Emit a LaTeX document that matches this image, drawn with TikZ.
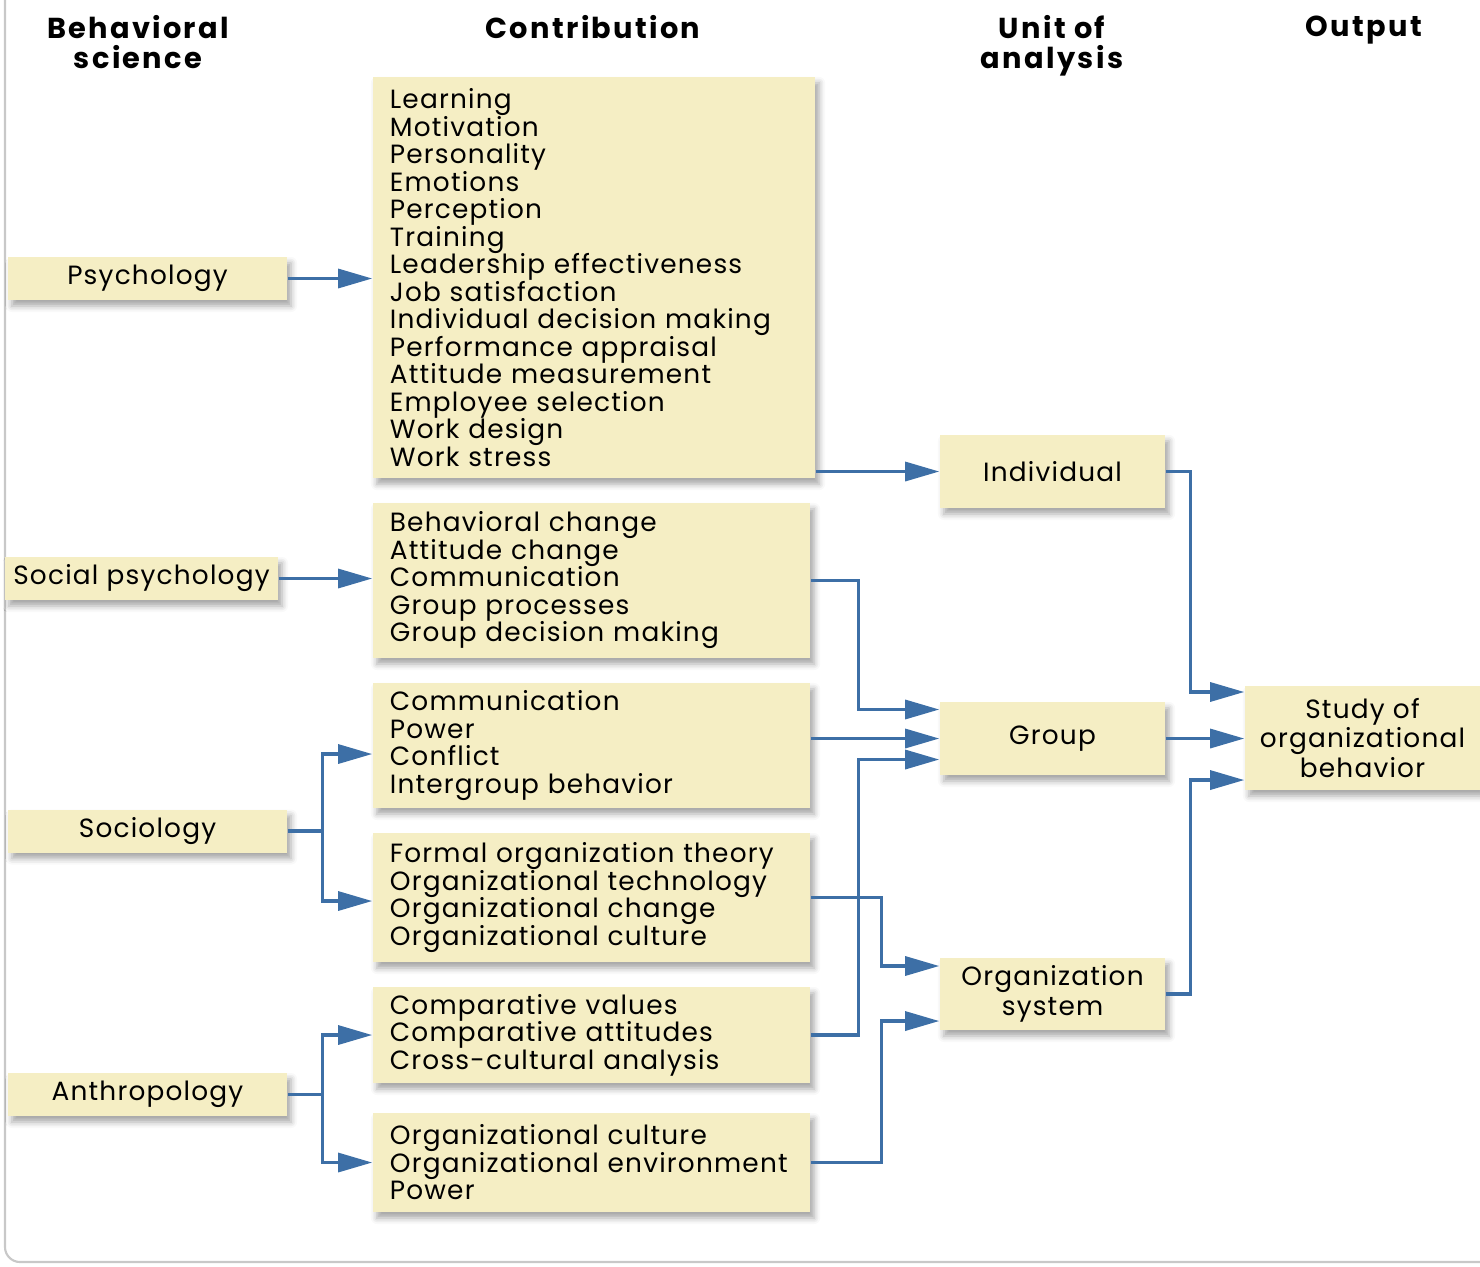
\documentclass[tikz,border=0pt]{standalone}
\usepackage{fontspec}
\setmainfont{Poppins}[LetterSpace=4.5]
\newfontfamily\headfont{Poppins}[LetterSpace=8]
\usetikzlibrary{arrows.meta,shadows.blur,calc}
\definecolor{boxfill}{HTML}{F5EEC4}
\definecolor{linkblue}{HTML}{3D6FA6}
\definecolor{framegray}{HTML}{C8C8C8}
\newcommand{\tightlines}{\lineskiplimit-20pt\relax}
\begin{document}
\begin{tikzpicture}[
				x=0.01cm, y=-0.01cm,
				box/.style={fill=boxfill, inner sep=0pt, blur shadow={shadow xshift=0.04cm, shadow yshift=-0.06cm, shadow blur radius=0.06cm, shadow opacity=35}},
				sci/.style={box, minimum width=2.79cm, minimum height=0.43cm, font={\fontsize{7.5}{8.5}\selectfont}},
				contrib/.style={box, inner xsep=0.17cm, align=left, font={\fontsize{7.5}{7.82}\selectfont\tightlines}},
				unit/.style={box, minimum width=2.25cm, minimum height=0.73cm, align=center, font={\fontsize{7.5}{8.5}\selectfont\tightlines}},
				head/.style={align=center, font={\headfont\bfseries\fontsize{8.2}{8.5}\selectfont\tightlines}},
				link/.style={draw=linkblue, line width=0.9pt, -{Triangle[length=3.4mm,width=1.9mm]}}
			]
			\useasboundingbox (0,0) rectangle (1480,1266);
			\draw[framegray, line width=0.6pt, rounded corners=0.15cm] (5,-20) -- (5,1262) -- (1500,1262);
			% column heads
			\node[head] (h1) at (138,42) {Behavioral\\science};
			\node[head] (h2) at (593,27) {Contribution};
			\node[head] (h3) at (1052,46) {Unit of\\analysis};
			\node[head] (h4) at (1364,30) {Output};
			% behavioral sciences
			\node[sci] (psy) at (147.5,278.5) {Psychology};
			\node[sci, minimum width=2.73cm] (soc) at (141.5,578.5) {Social psychology};
			\node[sci] (sol) at (147.5,831) {Sociology};
			\node[sci] (ant) at (147.5,1094.5) {Anthropology};
			% contributions
			\node[contrib, text width=4.08cm, minimum height=4.01cm] (c1) at (594,277.5) {Learning\\Motivation\\Personality\\Emotions\\Perception\\Training\\Leadership effectiveness\\Job satisfaction\\Individual decision making\\Performance appraisal\\Attitude measurement\\Employee selection\\Work design\\Work stress};
			\node[contrib, text width=4.03cm, minimum height=1.55cm] (c2) at (591.5,580.5) {Behavioral change\\Attitude change\\Communication\\Group processes\\Group decision making};
			\node[contrib, text width=4.03cm, minimum height=1.25cm] (c3) at (591.5,745.5) {Communication\\Power\\Conflict\\Intergroup behavior};
			\node[contrib, text width=4.03cm, minimum height=1.29cm] (c4) at (591.5,897.5) {Formal organization theory\\Organizational technology\\Organizational change\\Organizational culture};
			\node[contrib, text width=4.03cm, minimum height=0.96cm] (c5) at (591.5,1035) {Comparative values\\Comparative attitudes\\Cross-cultural analysis};
			\node[contrib, text width=4.03cm, minimum height=0.99cm] (c6) at (591.5,1162.5) {Organizational culture\\Organizational environment\\Power};
			% units of analysis
			\node[unit] (ind) at (1052.5,471.5) {Individual};
			\node[unit] (grp) at (1052.5,738.5) {Group};
			\node[unit, minimum height=0.72cm] (org) at (1052.5,994) {Organization\\system};
			% output
			\node[unit, minimum width=2.35cm, minimum height=1.04cm] (out) at (1362.5,738) {Study of\\organizational\\behavior};
			% links
			\draw[link] (psy.east) -- (psy.east -| c1.west);
			\draw[link] (soc.east) -- (soc.east -| c2.west);
			\draw[link] (ind.west -| c1.east) -- (ind.west);
			\draw[link] (c2.east) -- ++(48,0) |- ([yshift=0.29cm]grp.west);
			\draw[link] (grp.west -| c3.east) -- (grp.west);
			\draw[link] (c5.east) -- ++(48,0) |- ([yshift=-0.21cm]grp.west);
			\draw (sol.east) ++(35,0) coordinate (sj);
			\draw[link] (sol.east) -- (sj) |- ([yshift=-0.085cm]c3.west);
			\draw[link] (sj) |- ([yshift=-0.035cm]c4.west);
			\draw (ant.east) ++(35,0) coordinate (aj);
			\draw[link] (ant.east) -- (aj) |- (c5.west);
			\draw[link] (aj) |- (c6.west);
			\draw[link] (c4.east) -- ++(71,0) |- ([yshift=0.28cm]org.west);
			\draw[link] (c6.east) -- ++(71,0) |- ([yshift=-0.27cm]org.west);
			\draw[link] (ind.east) -- ++(25,0) |- ([yshift=0.46cm]out.west);
			\draw[link] (grp.east) -- (grp.east -| out.west);
			\draw[link] (org.east) -- ++(25,0) |- ([yshift=-0.42cm]out.west);
		\end{tikzpicture}
\end{document}
